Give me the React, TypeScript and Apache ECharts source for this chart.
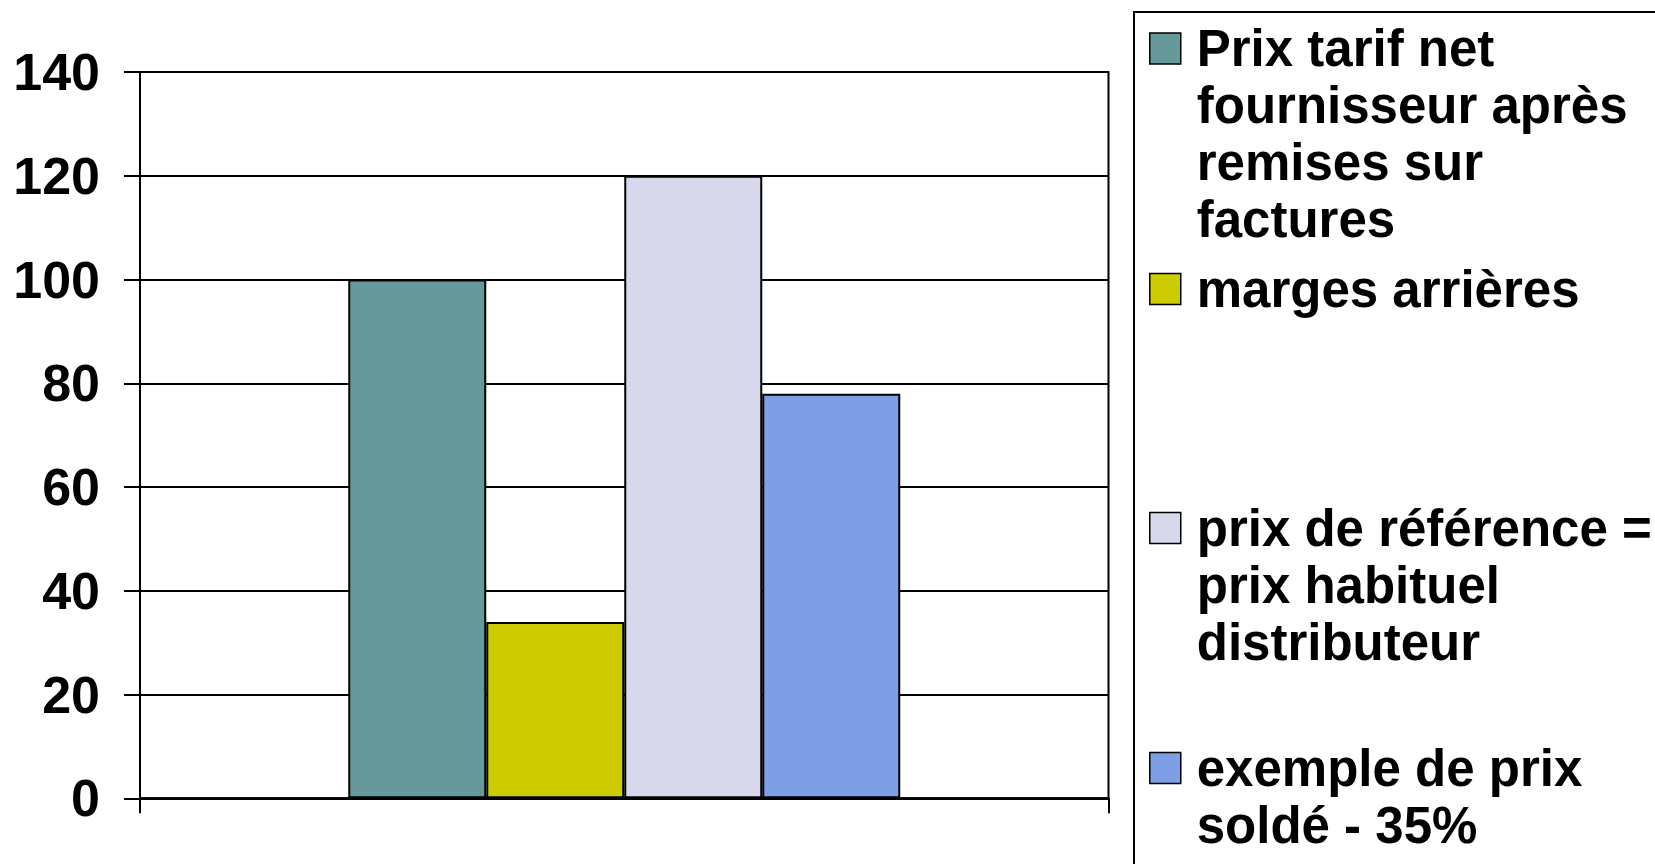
import React, { useEffect, useRef } from "react";
import * as echarts from "echarts";

const CATEGORIES = [""];
const LEGEND_LINES = [
  ["Prix tarif net", "fournisseur après", "remises sur", "factures"],
  ["marges arrières"],
  ["prix de référence =", "prix habituel", "distributeur"],
  ["exemple de prix", "soldé - 35%"],
];
const SERIES_NAMES = LEGEND_LINES.map((l) => l.join(" "));
const PRIX_TARIF = [100];
const MARGES = [34];
const PRIX_REF = [120];
const PRIX_SOLDE = [78];
const SERIES_VALUES = [PRIX_TARIF, MARGES, PRIX_REF, PRIX_SOLDE];
const COLORS = ["#669999", "#cccc00", "#d8d8ec", "#7e9ee5"];
const Y_TICKS = { min: 0, max: 140, interval: 20 };

const FONT = "'Liberation Sans', Arial, sans-serif";
const LINE_H = 57;
const LEGEND_CENTERS = [48.5, 289, 528, 768];

export default function App() {
  const ref = useRef<HTMLDivElement>(null);
  useEffect(() => {
    if (!ref.current) return;
    const chart = echarts.init(ref.current, null, { renderer: "svg" });
    const legends = LEGEND_LINES.map((lines, i) => {
      const n = lines.length;
      const padded = new Array(n - 1).fill("").concat(lines);
      return {
        show: true,
        orient: "vertical",
        left: 1149,
        top: LEGEND_CENTERS[i] - ((2 * n - 1) * LINE_H) / 2,
        padding: 0,
        itemWidth: 31,
        itemHeight: 31,
        icon: "rect",
        selectedMode: false,
        data: [SERIES_NAMES[i]],
        formatter: () => padded.join("\n"),
        itemStyle: { borderColor: "#000", borderWidth: 1.5 },
        textStyle: {
          color: "#000",
          fontFamily: FONT,
          fontWeight: "bold",
          fontSize: 51,
          lineHeight: LINE_H,
          padding: [0, 0, 0, 11],
          backgroundColor: "rgba(255,255,255,0)",
        },
      };
    });
    chart.setOption({
      animation: false,
      backgroundColor: "#fff",
      grid: {
        left: 140,
        right: 546.5,
        top: 72,
        bottom: 65.7,
        show: true,
        borderColor: "#000",
        borderWidth: 2,
        containLabel: false,
      },
      legend: legends,
      xAxis: {
        type: "category",
        data: CATEGORIES,
        boundaryGap: true,
        axisLine: { show: true, lineStyle: { color: "#000", width: 2.5 } },
        axisTick: { show: true, length: 15, lineStyle: { color: "#000", width: 2 } },
        axisLabel: { show: false },
        splitLine: { show: false },
      },
      yAxis: {
        type: "value",
        min: Y_TICKS.min,
        max: Y_TICKS.max,
        interval: Y_TICKS.interval,
        axisLine: { show: true, lineStyle: { color: "#000", width: 2 } },
        axisTick: { show: true, length: 16, lineStyle: { color: "#000", width: 2 } },
        axisLabel: {
          color: "#000",
          fontFamily: FONT,
          fontWeight: "bold",
          fontSize: 52,
          margin: 40,
        },
        splitLine: { show: true, lineStyle: { color: "#000", width: 2 } },
      },
      graphic: [
        {
          type: "rect",
          shape: { x: 1134, y: 12, width: 700, height: 1000 },
          style: { fill: "none", stroke: "#000", lineWidth: 2 },
          silent: true,
        },
      ],
      series: SERIES_NAMES.map((name, i) => ({
        name,
        type: "bar",
        data: SERIES_VALUES[i],
        barWidth: 138,
        barGap: "0%",
        itemStyle: { color: COLORS[i], borderColor: "#000", borderWidth: 2 },
      })),
    });
    return () => chart.dispose();
  }, []);
  return (
    <div
      ref={ref}
      style={{ position: "fixed", left: 0, top: 0, width: 1655, height: 864, background: "#fff" }}
    />
  );
}
